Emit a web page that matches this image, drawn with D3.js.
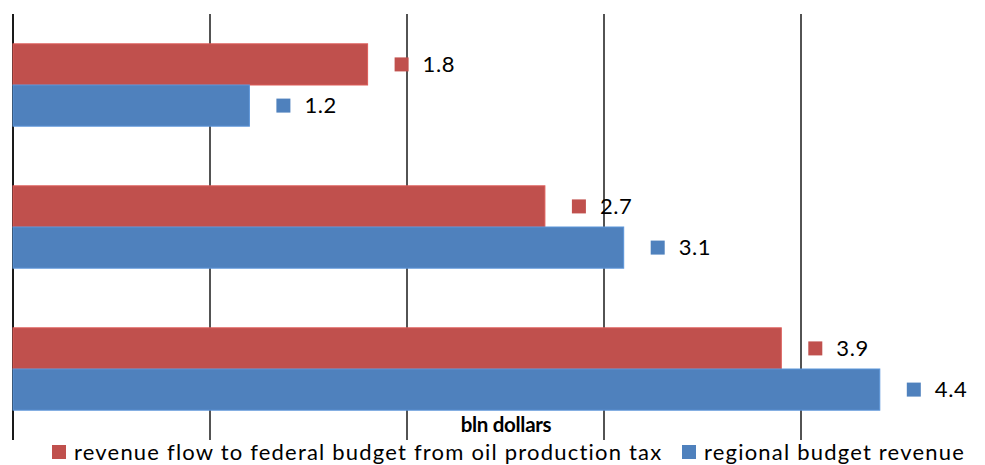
<!DOCTYPE html>
<html><head><meta charset="utf-8">
<script src="https://cdn.jsdelivr.net/npm/d3@7"></script>
<style>body{margin:0;background:#fff}svg{display:block}text{font-family:Lato,"Open Sans",sans-serif}</style>
</head><body><svg id="c" width="985" height="465"></svg>
<script>
const categories = ["1", "2", "3"];
const seriesNames = ["revenue flow to federal budget from oil production tax", "regional budget revenue"];
const federal = [1.8, 2.7, 3.9];
const regional = [1.2, 3.1, 4.4];
const xTicks = [0, 1, 2, 3, 4];
const axisTitle = "bln dollars";
const colors = ["#C0504D", "#4F81BD"];

const svg = d3.select("#c");
const x = d3.scaleLinear().domain([0, 5]).range([13, 998]);
const y = d3.scaleBand().domain(categories).range([14, 440]).paddingInner(0.42).paddingOuter(0.21);
const sub = d3.scaleBand().domain(seriesNames).range([0, y.bandwidth()]);

// gridlines
svg.append("g").selectAll("line").data(xTicks).join("line")
  .attr("x1", d => x(d)).attr("x2", d => x(d)).attr("y1", 14).attr("y2", 440)
  .attr("stroke", "#1a1a1a").attr("stroke-width", d => d === 0 ? 2 : 1.5);

const rows = categories.map((c, i) => [
  {c, s: seriesNames[0], v: federal[i], col: colors[0]},
  {c, s: seriesNames[1], v: regional[i], col: colors[1]}
]).flat();

svg.append("g").selectAll("rect").data(rows).join("rect")
  .attr("x", x(0)).attr("y", d => y(d.c) + sub(d.s))
  .attr("width", d => x(d.v) - x(0)).attr("height", sub.bandwidth())
  .attr("fill", d => d.col).attr("stroke", d => d3.color(d.col).brighter(0.4)).attr("stroke-width", 1);

const lab = svg.append("g").selectAll("g").data(rows).join("g")
  .attr("transform", d => `translate(${x(d.v) + 27},${y(d.c) + sub(d.s) + sub.bandwidth() / 2})`);
lab.append("rect").attr("x", 0).attr("y", -7).attr("width", 14).attr("height", 14).attr("fill", d => d.col);
lab.append("text").attr("x", 28).attr("dy", "0.35em").attr("font-size", 22).attr("letter-spacing", 0.6).attr("fill", "#000").text(d => d.v.toFixed(1));

svg.append("text").attr("x", 506).attr("y", 432).attr("text-anchor", "middle")
  .attr("font-size", 20.5).attr("font-weight", "bold").attr("letter-spacing", -0.3).text(axisTitle);

const leg = svg.append("g");
const legX = [52, 682];
seriesNames.forEach((s, i) => {
  leg.append("rect").attr("x", legX[i]).attr("y", 445).attr("width", 14).attr("height", 14).attr("fill", colors[i]);
  leg.append("text").attr("x", legX[i] + 22).attr("y", 452).attr("dy", "0.35em").attr("font-size", 22).attr("letter-spacing", 1.2).text(s);
});
</script></body></html>
